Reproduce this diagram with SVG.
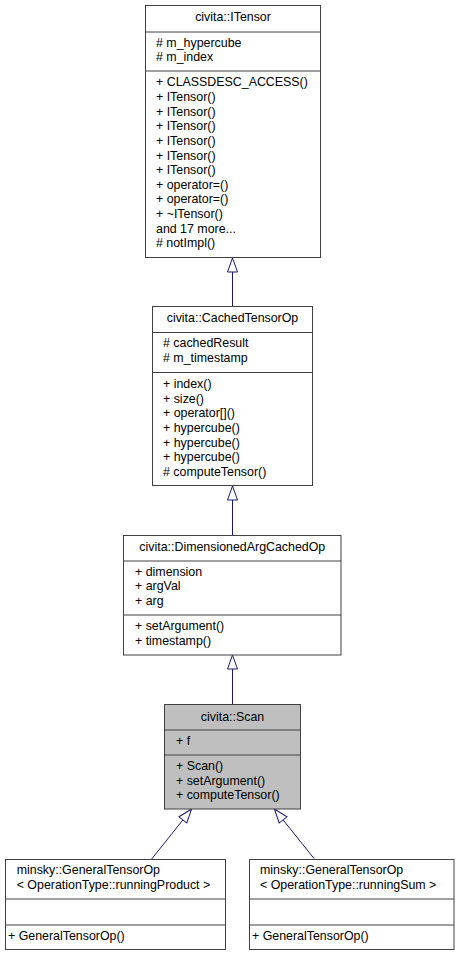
<svg xmlns="http://www.w3.org/2000/svg" width="456" height="956" viewBox="0 0 456 956">
<style>
.box{fill:#ffffff;stroke:#404040;stroke-width:1}
.sel{fill:#bfbfbf;stroke:#404040;stroke-width:1}
.sep{stroke:#404040;stroke-width:1}
text{font-family:"Liberation Sans",Arial,sans-serif;font-size:12.4px;fill:#000000}
.c{text-anchor:middle}
.edge{stroke:#191970;stroke-width:1;fill:none}
</style>
<defs>
<marker id="hollow" markerUnits="userSpaceOnUse" markerWidth="16" markerHeight="12" viewBox="-1 -6 16 12" refX="0" refY="0" orient="auto" overflow="visible">
<path d="M0,-5 L14,0 L0,5 Z" fill="#ffffff" stroke="#191970" stroke-width="1"/>
</marker>
</defs>
<rect width="456" height="956" fill="#ffffff"/>
<g id="connectors">
<path class="edge" d="M232.5,306.5 L232.5,272" marker-end="url(#hollow)"/>
<path class="edge" d="M232.5,535 L232.5,500" marker-end="url(#hollow)"/>
<path class="edge" d="M232.5,704 L232.5,669" marker-end="url(#hollow)"/>
<path class="edge" d="M151.7,859 L182.9,819.9" marker-end="url(#hollow)"/>
<path class="edge" d="M314,858.5 L283.1,819.9" marker-end="url(#hollow)"/>
</g>
<g id="ITensor">
<rect class="box" x="145.5" y="5.5" width="175" height="252"/>
<line class="sep" x1="145.5" y1="32" x2="320.5" y2="32"/>
<line class="sep" x1="145.5" y1="71" x2="320.5" y2="71"/>
<text class="c" x="233" y="21">civita::ITensor</text>
<text x="156" y="46.5"># m_hypercube</text>
<text x="156" y="61.3"># m_index</text>
<text x="156" y="86.3">+ CLASSDESC_ACCESS()</text>
<text x="156" y="100.9">+ ITensor()</text>
<text x="156" y="115.6">+ ITensor()</text>
<text x="156" y="130.2">+ ITensor()</text>
<text x="156" y="144.8">+ ITensor()</text>
<text x="156" y="159.5">+ ITensor()</text>
<text x="156" y="174.1">+ ITensor()</text>
<text x="156" y="188.7">+ operator=()</text>
<text x="156" y="203.4">+ operator=()</text>
<text x="156" y="218">+ ~ITensor()</text>
<text x="156" y="232.6">and 17 more...</text>
<text x="156" y="247.3"># notImpl()</text>
</g>
<g id="CachedTensorOp">
<rect class="box" x="152.5" y="306.5" width="160" height="179"/>
<line class="sep" x1="152.5" y1="332.5" x2="312.5" y2="332.5"/>
<line class="sep" x1="152.5" y1="372.5" x2="312.5" y2="372.5"/>
<text class="c" x="232.5" y="322.3">civita::CachedTensorOp</text>
<text x="163" y="347.3"># cachedResult</text>
<text x="163" y="362.3"># m_timestamp</text>
<text x="163" y="388.3">+ index()</text>
<text x="163" y="402.9">+ size()</text>
<text x="163" y="417.4">+ operator[]()</text>
<text x="163" y="432">+ hypercube()</text>
<text x="163" y="446.6">+ hypercube()</text>
<text x="163" y="461.1">+ hypercube()</text>
<text x="163" y="475.7"># computeTensor()</text>
</g>
<g id="DimensionedArgCachedOp">
<rect class="box" x="123.5" y="535.5" width="217.5" height="119.5"/>
<line class="sep" x1="123.5" y1="561" x2="341" y2="561"/>
<line class="sep" x1="123.5" y1="615" x2="341" y2="615"/>
<text class="c" x="232.3" y="550.7">civita::DimensionedArgCachedOp</text>
<text x="135" y="575.7">+ dimension</text>
<text x="135" y="590.3">+ argVal</text>
<text x="135" y="605">+ arg</text>
<text x="135" y="630">+ setArgument()</text>
<text x="135" y="645">+ timestamp()</text>
</g>
<g id="Scan">
<rect class="sel" x="164.5" y="704.5" width="136" height="104.5"/>
<line class="sep" x1="164.5" y1="730" x2="300.5" y2="730"/>
<line class="sep" x1="164.5" y1="755" x2="300.5" y2="755"/>
<text class="c" x="232.5" y="720.7">civita::Scan</text>
<text x="176" y="745">+ f</text>
<text x="176" y="770">+ Scan()</text>
<text x="176" y="784.6">+ setArgument()</text>
<text x="176" y="799.3">+ computeTensor()</text>
</g>
<g id="GeneralTensorOp_runningProduct">
<rect class="box" x="5.5" y="859.5" width="220" height="90"/>
<line class="sep" x1="5.5" y1="899" x2="225.5" y2="899"/>
<line class="sep" x1="5.5" y1="925" x2="225.5" y2="925"/>
<text x="16.7" y="874">minsky::GeneralTensorOp</text>
<text x="16.7" y="888.5">&lt; OperationType::runningProduct &gt;</text>
<text x="8" y="940">+ GeneralTensorOp()</text>
</g>
<g id="GeneralTensorOp_runningSum">
<rect class="box" x="249.5" y="859.5" width="204.5" height="90"/>
<line class="sep" x1="249.5" y1="899" x2="454" y2="899"/>
<line class="sep" x1="249.5" y1="925" x2="454" y2="925"/>
<text x="260" y="874">minsky::GeneralTensorOp</text>
<text x="260" y="888.5">&lt; OperationType::runningSum &gt;</text>
<text x="252" y="940">+ GeneralTensorOp()</text>
</g>
</svg>
